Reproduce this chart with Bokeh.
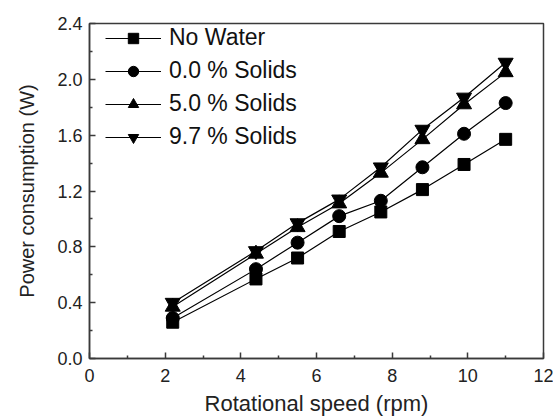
from bokeh.plotting import figure
from bokeh.models import Legend, LegendItem, FixedTicker, Range1d, PrintfTickFormatter
from bokeh.embed import file_html
from bokeh.resources import INLINE

# Rotational speed (rpm)
speed = [2.2, 4.4, 5.5, 6.6, 7.7, 8.8, 9.9, 11.0]

# Power consumption (W) per condition
no_water = [0.26, 0.57, 0.72, 0.91, 1.05, 1.21, 1.39, 1.57]
solids_0 = [0.29, 0.64, 0.83, 1.02, 1.13, 1.37, 1.61, 1.83]
solids_5 = [0.37, 0.75, 0.94, 1.11, 1.33, 1.57, 1.82, 2.05]
solids_97 = [0.40, 0.77, 0.97, 1.14, 1.37, 1.64, 1.87, 2.12]

labels = ["No Water", "0.0 % Solids", "5.0 % Solids", "9.7 % Solids"]
x_ticks = [0, 2, 4, 6, 8, 10, 12]
y_ticks = [0.0, 0.4, 0.8, 1.2, 1.6, 2.0, 2.4]

FONT = "Liberation Sans"
INK = "black"

p = figure(width=553, height=419, output_backend="svg", toolbar_location=None,
           x_range=Range1d(0, 12), y_range=Range1d(0, 2.4),
           min_border_left=89, min_border_right=10, min_border_top=23,
           min_border_bottom=61)
p.background_fill_color = "white"
p.border_fill_color = "white"
p.outline_line_color = "#3a3a3a"
p.outline_line_width = 1.5
p.grid.visible = False

series = [
    (no_water, "square", 12),
    (solids_0, "circle", 13),
    (solids_5, "triangle", 15),
    (solids_97, "inverted_triangle", 15),
]

items = []
for (vals, marker, size), lab in zip(series, labels):
    ln = p.line(speed, vals, line_color=INK, line_width=1.2)
    mk = p.scatter(speed, vals, marker=marker, size=size,
                   fill_color=INK, line_color=INK)
    items.append(LegendItem(label=lab, renderers=[ln, mk]))

# legend block anchored just under the top-left corner of the frame
legend = Legend(items=items, location=(16, 208))
legend.margin = 0
legend.padding = 0
legend.border_line_color = None
legend.background_fill_alpha = 0
legend.label_text_font = FONT
legend.label_text_font_size = "23px"
legend.label_text_color = "#111111"
legend.glyph_width = 56
legend.glyph_height = 26
legend.label_height = 26
legend.spacing = 6
legend.label_standoff = 8
p.add_layout(legend)

for ax in (p.xaxis[0], p.yaxis[0]):
    ax.axis_line_color = "#3a3a3a"
    ax.axis_line_width = 1.5
    ax.major_tick_in = 6
    ax.major_tick_out = 0
    ax.minor_tick_in = 3
    ax.minor_tick_out = 0
    ax.major_tick_line_color = "#3a3a3a"
    ax.minor_tick_line_color = "#3a3a3a"
    ax.major_tick_line_width = 1.5
    ax.minor_tick_line_width = 1.5
    ax.major_label_text_font = FONT
    ax.major_label_text_font_size = "18px"
    ax.major_label_text_color = "#222222"
    ax.axis_label_text_font = FONT
    ax.axis_label_text_font_style = "normal"
    ax.axis_label_text_color = "#222222"

p.xaxis.axis_label_text_font_size = "22px"
p.yaxis.axis_label_text_font_size = "20px"
p.xaxis.major_label_text_line_height = 0.9
p.xaxis.axis_label_text_line_height = 0.9
p.xaxis.ticker = FixedTicker(ticks=x_ticks, minor_ticks=[1, 3, 5, 7, 9, 11])
p.yaxis.ticker = FixedTicker(ticks=y_ticks, minor_ticks=[0.2, 0.6, 1.0, 1.4, 1.8, 2.2])
p.yaxis.formatter = PrintfTickFormatter(format="%.1f")
p.xaxis.axis_label = "Rotational speed (rpm)"
p.yaxis.axis_label = "Power consumption (W)"
p.xaxis.major_label_standoff = 10
p.yaxis.major_label_standoff = 7
p.xaxis.axis_label_standoff = 6
p.yaxis.axis_label_standoff = 16

open("out.html", "w").write(file_html(p, INLINE))
